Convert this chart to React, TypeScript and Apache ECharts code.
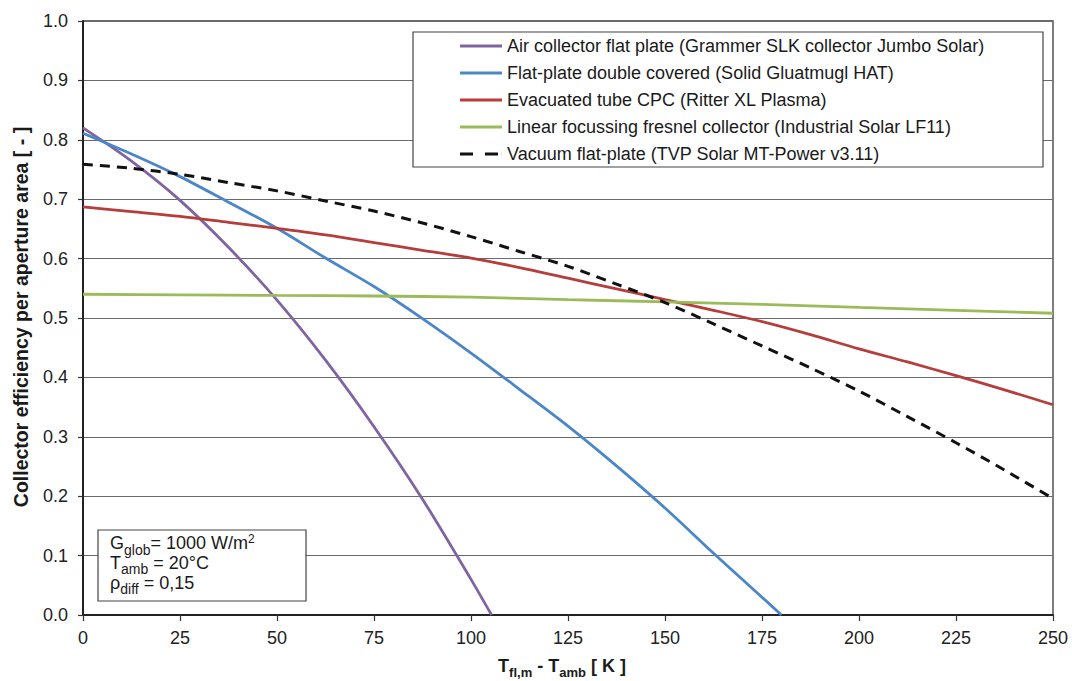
import React, { useEffect, useRef } from 'react';
import * as echarts from 'echarts';

const FONT = '"Liberation Sans", Arial, Helvetica, sans-serif';

const seriesNames = [
  'Air collector flat plate (Grammer SLK collector Jumbo Solar)',
  'Flat-plate double covered (Solid Gluatmugl HAT)',
  'Evacuated tube CPC (Ritter XL Plasma)',
  'Linear focussing fresnel collector (Industrial Solar LF11)',
  'Vacuum flat-plate (TVP Solar MT-Power v3.11)',
];
const seriesColors = ['#8064a2', '#4a86c8', '#b53d3b', '#9bbb59', '#111111'];

// Temperature difference T_fl,m - T_amb [K] and efficiency
const airT = [0, 12.5, 25, 37.5, 50, 62.5, 75, 87.5, 100, 105.3];
const airEta = [0.82, 0.764, 0.698, 0.619, 0.53, 0.429, 0.317, 0.195, 0.06, 0];

const flatT = [0, 12.5, 25, 37.5, 50, 62.5, 75, 87.5, 100, 112.5, 125, 137.5, 150, 162.5, 175, 180];
const flatEta = [0.811, 0.776, 0.738, 0.695, 0.651, 0.601, 0.553, 0.499, 0.441, 0.38, 0.318, 0.251, 0.18, 0.104, 0.03, 0];

const cpcT = [0, 12.5, 25, 37.5, 50, 62.5, 75, 87.5, 100, 112.5, 125, 137.5, 150, 162.5, 175, 187.5, 200, 212.5, 225, 237.5, 250];
const cpcEta = [0.687, 0.679, 0.671, 0.661, 0.651, 0.64, 0.627, 0.614, 0.601, 0.585, 0.567, 0.549, 0.531, 0.513, 0.494, 0.472, 0.448, 0.426, 0.403, 0.379, 0.354];

const fresnelT = [0, 25, 50, 75, 100, 125, 150, 175, 200, 225, 250];
const fresnelEta = [0.54, 0.539, 0.538, 0.537, 0.535, 0.531, 0.527, 0.523, 0.518, 0.513, 0.508];

const vacuumT = [0, 12.5, 25, 37.5, 50, 62.5, 75, 87.5, 100, 112.5, 125, 137.5, 150, 162.5, 175, 187.5, 200, 212.5, 225, 237.5, 250];
const vacuumEta = [0.759, 0.752, 0.742, 0.728, 0.714, 0.697, 0.68, 0.66, 0.637, 0.612, 0.587, 0.557, 0.526, 0.49, 0.453, 0.416, 0.377, 0.334, 0.29, 0.244, 0.196];

const xMin = 0, xMax = 250, xStep = 25;
const yMin = 0, yMax = 1, yStep = 0.1;

const yTitle = 'Collector efficiency per aperture area [ - ]';

function pairs(xs: number[], ys: number[]) {
  return xs.map((x, i) => [x, ys[i]]);
}

let ctx: CanvasRenderingContext2D | null = null;
function textWidth(text: string, size: number, weight: string) {
  if (!ctx) ctx = document.createElement('canvas').getContext('2d');
  if (!ctx) return text.length * size * 0.55;
  ctx.font = `${weight} ${size}px ${FONT}`;
  return ctx.measureText(text).width;
}

type Seg = { t: string; size: number; dy?: number };

function buildLine(segs: Seg[], x0: number, baseline: number, weight: string, out: any[]) {
  let x = x0;
  for (const s of segs) {
    const w = textWidth(s.t, s.size, weight);
    out.push({
      type: 'text',
      x,
      y: baseline + (s.dy || 0) - 0.3465 * s.size,
      z: 20,
      style: {
        text: s.t,
        font: `${weight} ${s.size}px ${FONT}`,
        fill: '#1a1a1a',
        align: 'left',
        verticalAlign: 'middle',
        textAlign: 'left',
        textVerticalAlign: 'middle',
      },
    });
    x += w;
  }
  return x - x0;
}

function lineWidthOf(segs: Seg[], weight: string) {
  return segs.reduce((a, s) => a + textWidth(s.t, s.size, weight), 0);
}

export default function App() {
  const ref = useRef<HTMLDivElement>(null);
  useEffect(() => {
    if (!ref.current) return;
    const chart = echarts.init(ref.current, undefined, { renderer: 'svg' });

    const legendFont = 18;
    const longest = Math.max(...seriesNames.map((n) => textWidth(n, legendFont, 'normal')));
    const legendLeft = 413;
    const legendRight = 1043;
    const padLeft = 47;
    const iconW = 42;
    const padRight = Math.max(10, legendRight - legendLeft - padLeft - iconW - 5 - longest);

    const graphics: any[] = [];
    // annotation box
    graphics.push({
      type: 'rect',
      z: 19,
      shape: { x: 98, y: 530, width: 208, height: 71 },
      style: { fill: '#ffffff', stroke: '#444', lineWidth: 1.2 },
    });
    buildLine([{ t: 'G', size: 18 }, { t: 'glob', size: 14, dy: 6 }, { t: '= 1000 W/m', size: 18 }, { t: '2', size: 12, dy: -6 }], 110, 549, 'normal', graphics);
    buildLine([{ t: 'T', size: 18 }, { t: 'amb', size: 14, dy: 5 }, { t: ' = 20°C', size: 18 }], 110, 569, 'normal', graphics);
    buildLine([{ t: 'ρ', size: 18 }, { t: 'diff', size: 14, dy: 5 }, { t: ' = 0,15', size: 18 }], 110, 589, 'normal', graphics);

    // x-axis title
    const xTitleSegs: Seg[] = [
      { t: 'T', size: 18 },
      { t: 'fl,m', size: 13, dy: 5 },
      { t: ' - T', size: 18 },
      { t: 'amb', size: 13, dy: 5 },
      { t: ' [ K ]', size: 18 },
    ];
    const xw = lineWidthOf(xTitleSegs, 'bold');
    buildLine(xTitleSegs, 562 - xw / 2, 672, 'bold', graphics);

    // y-axis title
    graphics.push({
      type: 'text',
      x: 21,
      y: 317,
      rotation: Math.PI / 2,
      z: 20,
      style: {
        text: yTitle,
        font: `bold 19.5px ${FONT}`,
        fill: '#1a1a1a',
        align: 'center',
        verticalAlign: 'middle',
        textAlign: 'center',
        textVerticalAlign: 'middle',
      },
    });

    const datasets = [
      pairs(airT, airEta),
      pairs(flatT, flatEta),
      pairs(cpcT, cpcEta),
      pairs(fresnelT, fresnelEta),
      pairs(vacuumT, vacuumEta),
    ];

    const solidIcon = 'rect';
    const dashIcon = 'path://M0,0h13v3h-13zM25,0h13v3h-13zM41.9,0h0.1v3h-0.1z';

    chart.setOption({
      animation: false,
      backgroundColor: '#ffffff',
      grid: {
        left: 83,
        top: 21,
        right: 19,
        bottom: 66,
        show: true,
        borderColor: '#3a3a3a',
        borderWidth: 1.3,
        backgroundColor: 'transparent',
      },
      xAxis: {
        type: 'value',
        min: xMin,
        max: xMax,
        interval: xStep,
        axisLine: { show: true, onZero: false, lineStyle: { color: '#222', width: 2 } },
        axisTick: { show: true, length: 6, lineStyle: { color: '#333', width: 1.2 } },
        axisLabel: { margin: 14, fontSize: 18, color: '#222', fontFamily: FONT },
        splitLine: { show: false },
      },
      yAxis: {
        type: 'value',
        min: yMin,
        max: yMax,
        interval: yStep,
        axisLine: { show: true, onZero: false, lineStyle: { color: '#222', width: 2 } },
        axisTick: { show: true, length: 5, lineStyle: { color: '#333', width: 1.2 } },
        axisLabel: {
          margin: 15,
          fontSize: 18,
          color: '#222',
          fontFamily: FONT,
          formatter: (v: number) => v.toFixed(1),
        },
        splitLine: { show: true, lineStyle: { color: '#6a6a6a', width: 1.2 } },
      },
      legend: {
        left: legendLeft,
        top: 32,
        orient: 'vertical',
        itemWidth: iconW,
        itemHeight: 3,
        itemGap: 9,
        padding: [5, padRight, 4, padLeft],
        backgroundColor: '#ffffff',
        borderColor: '#444',
        borderWidth: 1.2,
        z: 15,
        textStyle: { fontSize: legendFont, color: '#1a1a1a', fontFamily: FONT, lineHeight: 14 },
        data: seriesNames.map((n, i) => ({ name: n, icon: i === 4 ? dashIcon : solidIcon })),
      },
      graphic: { elements: graphics },
      series: seriesNames.map((name, i) => ({
        name,
        type: 'line',
        data: datasets[i],
        smooth: 0.3,
        showSymbol: false,
        symbol: 'none',
        clip: true,
        color: seriesColors[i],
        lineStyle: {
          color: seriesColors[i],
          width: i === 4 ? 3 : 2.8,
          type: i === 4 ? [10, 7] : 'solid',
        },
        z: 3 + i,
      })),
    });
    return () => chart.dispose();
  }, []);
  return (
    <div
      ref={ref}
      style={{ position: 'fixed', left: 0, top: 0, width: 1072, height: 681, background: '#fff' }}
    />
  );
}
